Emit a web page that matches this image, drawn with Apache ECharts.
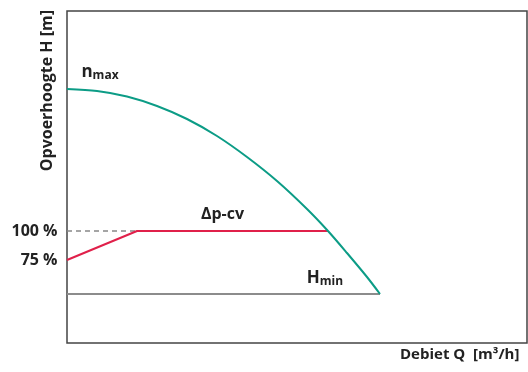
<!DOCTYPE html>
<html>
<head>
<meta charset="utf-8">
<script src="https://cdn.jsdelivr.net/npm/echarts@6/dist/echarts.min.js"></script>
<style>
  html, body { margin: 0; padding: 0; background: #fff; }
  #chart { width: 528px; height: 372px; }
</style>
</head>
<body>
<div id="chart"></div>
<script>
// Pump curve: maximum speed curve, Δp-cv control line and minimum head
const curveQ = [0, 3, 6, 9, 12, 15, 18, 21, 24, 26.1, 28, 30, 31.3];
const curveH = [25.4, 25.2, 24.65, 23.7, 22.4, 20.7, 18.6, 16.2, 13.4, 11.2, 9.0, 6.6, 4.9];

const controlQ = [0, 7.0, 26.1];
const controlH = [8.3, 11.2, 11.2];

const setpointQ = [0, 7.0];
const setpointH = [11.2, 11.2];

const minQ = [0, 31.3];
const minH = [4.9, 4.9];

const levelLabels = ['100 %', '75 %'];

const FONT = 'Open Sans';
const pair = (xs, ys) => xs.map((x, i) => [x, ys[i]]);

const plain = { fontFamily: FONT, fontWeight: 'bold', fontSize: 16, color: '#222' };
const subRich = {
  b: { fontFamily: FONT, fontWeight: 'bold', fontSize: 17, color: '#222' },
  s: { fontFamily: FONT, fontWeight: 'bold', fontSize: 12, color: '#222', padding: [7, 0, 0, 0] }
};
// invisible anchor used to hang a text label on a data coordinate
const anchor = (coord, label) => ({
  coord, symbol: 'circle', symbolSize: 1,
  itemStyle: { color: 'rgba(0,0,0,0)' },
  label: Object.assign({ show: true }, label)
});

const chart = echarts.init(document.getElementById('chart'));
chart.setOption({
  animation: false,
  grid: {
    left: 67, top: 11, right: 1, bottom: 29,
    show: true, borderColor: '#444', borderWidth: 1.5
  },
  xAxis: {
    type: 'value', min: 0, max: 46,
    axisLine: { show: false }, axisTick: { show: false },
    axisLabel: { show: false }, splitLine: { show: false }
  },
  yAxis: {
    type: 'value', min: 0, max: 33.2,
    axisLine: { show: false }, axisTick: { show: false },
    axisLabel: { show: false }, splitLine: { show: false }
  },
  graphic: [
    {
      type: 'text', left: 400, top: 347,
      style: {
        text: 'Debiet Q  [m³/h]', fill: '#222',
        font: 'bold 15px "' + FONT + '"'
      }
    },
    {
      type: 'text', x: 39, y: 10, rotation: Math.PI / 2,
      style: {
        text: 'Opvoerhoogte H [m]', fill: '#222',
        font: 'bold 16px "' + FONT + '"',
        align: 'right', verticalAlign: 'top'
      }
    }
  ],
  series: [
    {
      type: 'line', data: pair(minQ, minH), symbol: 'none',
      lineStyle: { color: '#8c8c8c', width: 2 },
      markPoint: {
        data: [anchor([minQ[1], minH[1]], {
          formatter: '{b|H}{s|min}', position: 'inside', offset: [-55, -16], rich: subRich
        })]
      }
    },
    {
      type: 'line', data: pair(setpointQ, setpointH), symbol: 'none',
      lineStyle: { color: '#888', width: 1.5, type: [5, 4] },
      markPoint: {
        data: [anchor([setpointQ[0], setpointH[0]], Object.assign({
          formatter: levelLabels[0], position: 'left', distance: 9
        }, plain))]
      }
    },
    {
      type: 'line', data: pair(controlQ, controlH), symbol: 'none',
      lineStyle: { color: '#e0204a', width: 2 },
      markPoint: {
        data: [
          anchor([controlQ[0], controlH[0]], Object.assign({
            formatter: levelLabels[1], position: 'left', distance: 9
          }, plain)),
          anchor([(controlQ[1] + controlQ[2]) / 2 - 1.0, controlH[1]], Object.assign({
            formatter: 'Δp-cv', position: 'top', distance: 8
          }, plain))
        ]
      }
    },
    {
      type: 'line', data: pair(curveQ, curveH), symbol: 'none', smooth: 0.3,
      lineStyle: { color: '#0c9c86', width: 2 },
      markPoint: {
        data: [anchor([curveQ[0], curveH[0]], {
          formatter: '{b|n}{s|max}', position: 'inside', offset: [33, -17], rich: subRich
        })]
      }
    }
  ]
});
</script>
</body>
</html>
